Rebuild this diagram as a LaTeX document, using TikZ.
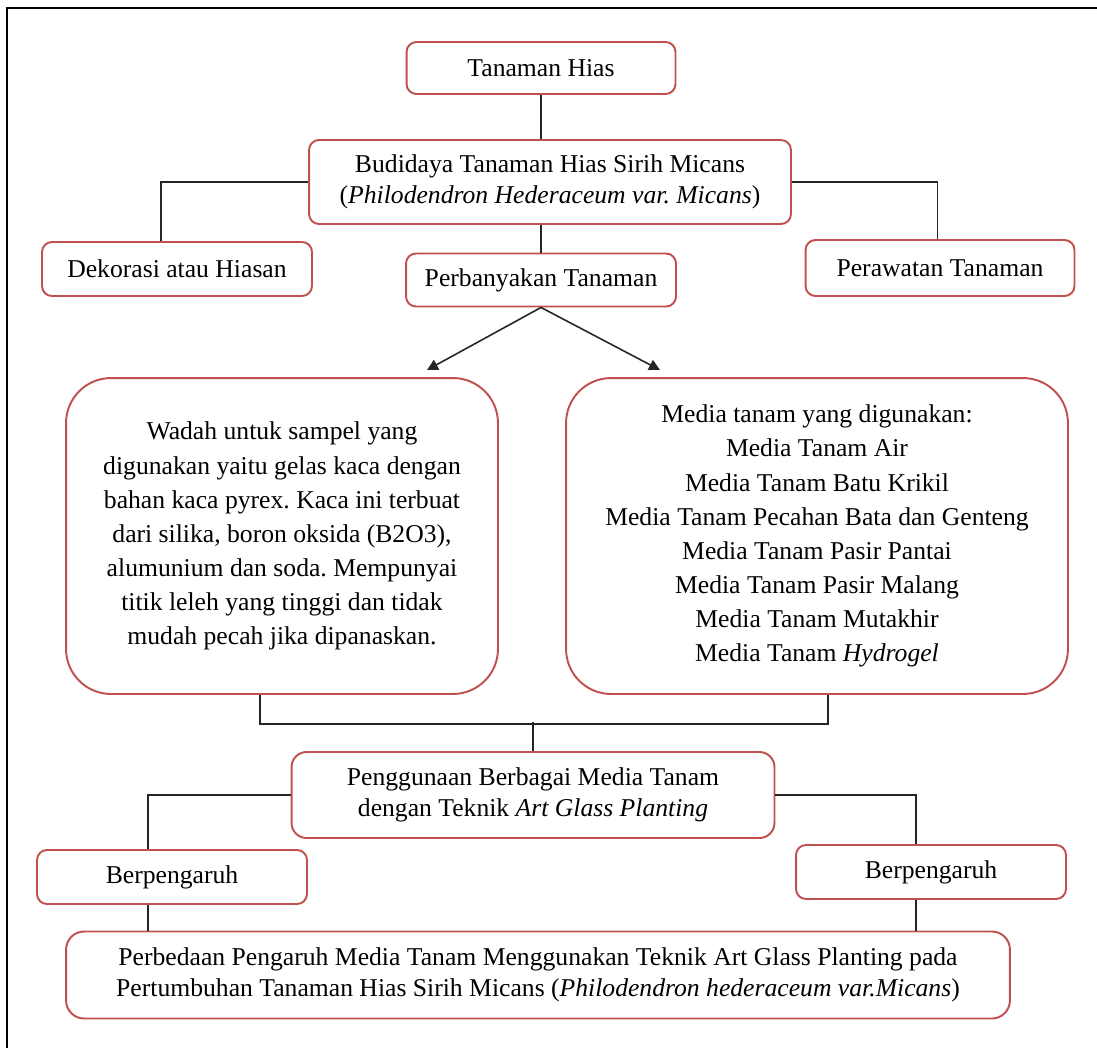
\documentclass[tikz,border=0pt]{standalone}
\usepackage{fontspec}
\setmainfont{Liberation Serif}
\usetikzlibrary{arrows.meta}
\definecolor{garismerah}{HTML}{C0504D}
\frenchspacing
\tikzset{
    kotak/.style={draw=garismerah, line width=1.1pt, rounded corners=0.2cm, align=center, inner sep=0pt},
    kotakbesar/.style={kotak, rounded corners=0.9cm, font=\fontsize{14.6}{19.4}\selectfont},
    garis/.style={draw=black!85, line width=0.9pt},
    panah/.style={garis, -{Triangle[length=2.2mm, width=2.2mm]}}
}
\begin{document}
\begin{tikzpicture}[x=0.02cm, y=-0.02cm, font=\fontsize{14.6}{17.6}\selectfont]
    \useasboundingbox (0,0) rectangle (1097,1048);
    % bingkai
    \draw[line width=1.5pt] (7,1048) -- (7,8) -- (1097,8);

    % Tanaman Hias
    \node[kotak, minimum width=5.38cm, minimum height=1.04cm] (hias) at (541,68) {Tanaman Hias};

    % Budidaya
    \node[kotak, minimum width=9.64cm, minimum height=1.68cm] (budidaya) at (550,182) {Budidaya Tanaman Hias Sirih Micans\\(\textit{Philodendron Hederaceum var. Micans})};

    % Cabang
    \node[kotak, minimum width=5.4cm, minimum height=1.08cm] (dekorasi) at (177,269) {Dekorasi atau Hiasan};
    \node[kotak, minimum width=5.4cm, minimum height=1.06cm] (perbanyakan) at (541,280) {Perbanyakan Tanaman};
    \node[kotak, minimum width=5.38cm, minimum height=1.12cm] (perawatan) at (940,268) {Perawatan Tanaman};

    % Wadah dan media
    \node[kotakbesar, minimum width=8.64cm, minimum height=6.32cm] (wadah) at (282,536) {Wadah untuk sampel yang\\digunakan yaitu gelas kaca dengan\\bahan kaca pyrex. Kaca ini terbuat\\dari silika, boron oksida (B2O3),\\alumunium dan soda. Mempunyai\\titik leleh yang tinggi dan tidak\\mudah pecah jika dipanaskan.};
    \node[kotakbesar, minimum width=10.04cm, minimum height=6.32cm] (media) at (817,536) {Media tanam yang digunakan:\\Media Tanam Air\\Media Tanam Batu Krikil\\Media Tanam Pecahan Bata dan Genteng\\Media Tanam Pasir Pantai\\Media Tanam Pasir Malang\\Media Tanam Mutakhir\\Media Tanam \textit{Hydrogel}};
    \coordinate (ujungkiri) at (427,370);
    \coordinate (ujungkanan) at (660,370);

    % Penggunaan
    \node[kotak, rounded corners=0.3cm, minimum width=9.66cm, minimum height=1.72cm] (penggunaan) at (533,795) {Penggunaan Berbagai Media Tanam\\dengan Teknik \textit{Art Glass Planting}};
    \node[kotak, minimum width=5.4cm, minimum height=1.08cm] (pengaruhkiri) at (172,877) {Berpengaruh};
    \node[kotak, minimum width=5.4cm, minimum height=1.08cm] (pengaruhkanan) at (931,872) {Berpengaruh};

    % Perbedaan
    \node[kotak, rounded corners=0.36cm, minimum width=18.88cm, minimum height=1.74cm] (perbedaan) at (538,975) {Perbedaan Pengaruh Media Tanam Menggunakan Teknik Art Glass Planting pada\\Pertumbuhan Tanaman Hias Sirih Micans (\textit{Philodendron hederaceum var.Micans})};

    % Garis
    \draw[garis] (hias.south) -- (hias.south |- budidaya.north);
    \draw[garis] (budidaya.west) -| ([xshift=-0.32cm]dekorasi.north);
    \draw[garis] (budidaya.east) -| ([xshift=-0.05cm]perawatan.north);
    \draw[garis] (perbanyakan.north |- budidaya.south) -- (perbanyakan.north);
    \draw[panah] (perbanyakan.south) -- (ujungkiri);
    \draw[panah] (perbanyakan.south) -- (ujungkanan);
    \draw[garis] ([xshift=-0.44cm]wadah.south) -- ++(0,29) -| ([xshift=0.22cm]media.south);
    \draw[garis] (penggunaan.north) -- ++(0,-29);
    \draw[garis] (penggunaan.west) -| ([xshift=-0.48cm]pengaruhkiri.north);
    \draw[garis] (penggunaan.east) -| ([xshift=-0.3cm]pengaruhkanan.north);
    \draw[garis] ([xshift=-0.48cm]pengaruhkiri.south) -- ([xshift=-0.48cm]pengaruhkiri.south |- perbedaan.north);
    \draw[garis] ([xshift=-0.3cm]pengaruhkanan.south) -- ([xshift=-0.3cm]pengaruhkanan.south |- perbedaan.north);
\end{tikzpicture}
\end{document}
